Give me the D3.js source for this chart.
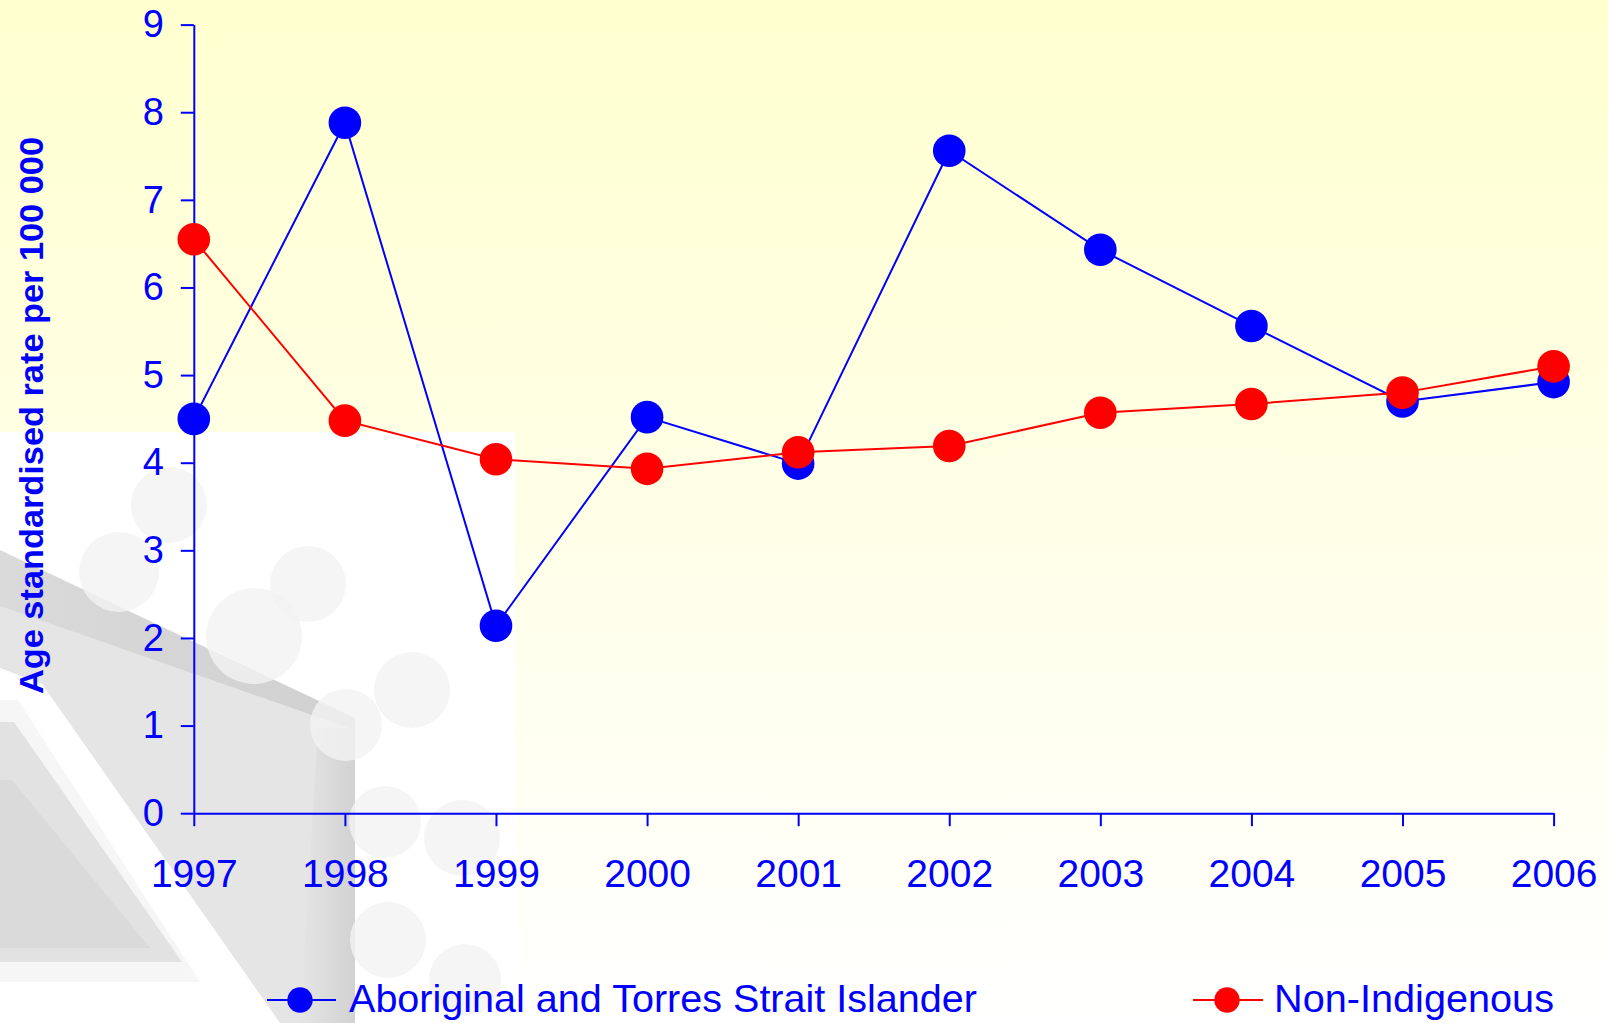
<!DOCTYPE html>
<html>
<head>
<meta charset="utf-8">
<script src="https://cdn.jsdelivr.net/npm/d3@7"></script>
<style>
  html, body { margin: 0; padding: 0; background: #fff; }
  svg { display: block; }
  text { font-family: "Liberation Sans", Arial, sans-serif; }
</style>
</head>
<body>
<svg id="chart" width="1608" height="1023"></svg>
<script>
// ---- data ----
const years = ["1997", "1998", "1999", "2000", "2001", "2002", "2003", "2004", "2005", "2006"];
const indigenous = [4.50, 7.88, 2.14, 4.52, 3.99, 7.56, 6.43, 5.56, 4.70, 4.92];
const nonIndigenous = [6.55, 4.48, 4.04, 3.93, 4.12, 4.19, 4.57, 4.67, 4.80, 5.10];
const yTicks = [0, 1, 2, 3, 4, 5, 6, 7, 8, 9];
const seriesNames = ["Aboriginal and Torres Strait Islander", "Non-Indigenous"];
const yTitle = "Age standardised rate per 100 000";

const W = 1608, H = 1023;
const svg = d3.select("#chart");
const defs = svg.append("defs");

// ---- background ----
const bg = defs.append("linearGradient").attr("id", "bgGrad")
  .attr("x1", 0).attr("y1", 0).attr("x2", 0).attr("y2", 1);
bg.append("stop").attr("offset", "0%").attr("stop-color", "#FFFFCF");
bg.append("stop").attr("offset", "100%").attr("stop-color", "#FFFFFF");
svg.append("rect").attr("width", W).attr("height", H).attr("fill", "url(#bgGrad)");

// watermark panel (lower-left)
defs.append("clipPath").attr("id", "wmClip")
  .append("rect").attr("x", 0).attr("y", 432).attr("width", 515).attr("height", H - 432);
const wm = svg.append("g").attr("clip-path", "url(#wmClip)");
wm.append("rect").attr("x", 0).attr("y", 432).attr("width", 515).attr("height", H - 432).attr("fill", "#ffffff");

const band = defs.append("linearGradient").attr("id", "bandGrad")
  .attr("x1", 0).attr("y1", 0).attr("x2", 1).attr("y2", 0);
band.append("stop").attr("offset", "0%").attr("stop-color", "#dadada");
band.append("stop").attr("offset", "100%").attr("stop-color", "#d0d0d0");

wm.append("path").attr("d", "M0,600 L355,728 L355,1023 L280,1023 L42,684 L0,668 Z").attr("fill", "#e5e5e5");
wm.append("path").attr("d", "M0,550 L355,718 L355,730 L0,606 Z").attr("fill", "url(#bandGrad)");
const vs = defs.append("linearGradient").attr("id", "vsGrad")
  .attr("x1", 0).attr("y1", 0).attr("x2", 1).attr("y2", 0);
vs.append("stop").attr("offset", "0%").attr("stop-color", "#e5e5e5");
vs.append("stop").attr("offset", "100%").attr("stop-color", "#d2d2d2");
wm.append("path").attr("d", "M318,728 L355,728 L355,1023 L300,1023 Z").attr("fill", "url(#vsGrad)");
wm.append("path").attr("d", "M0,700 L18,700 L200,982 L0,982 Z").attr("fill", "#f6f6f6");
wm.append("path").attr("d", "M0,722 L14,722 L182,962 L0,962 Z").attr("fill", "#e2e2e2");
wm.append("path").attr("d", "M0,780 L12,780 L150,948 L0,948 Z").attr("fill", "#dadada");

const circ = [[169,505,38],[119,572,40],[308,584,38],[254,636,48],[412,690,38],[346,725,36],
              [385,822,36],[462,838,38],[388,940,38],[465,980,36]];
wm.selectAll("circle.wc").data(circ).join("circle").attr("class", "wc")
  .attr("cx", d => d[0]).attr("cy", d => d[1]).attr("r", d => d[2]).attr("fill", "#f2f2f2").attr("opacity", 0.8);

// ---- scales ----
const x = d3.scalePoint().domain(years).range([193.8, 1553.6]).padding(0);
const y = d3.scaleLinear().domain([0, 9]).range([813.2, 24.6]);
const blue = "#0000FF", red = "#FF0000";

// ---- axes ----
const yAxis = svg.append("g").attr("transform", `translate(${x(years[0])},0)`)
  .call(d3.axisLeft(y).tickValues(yTicks).tickFormat(d3.format("d")).tickSize(13).tickSizeOuter(0).tickPadding(17));
yAxis.selectAll("text").attr("font-size", 38).attr("fill", blue).style("font-family", '"Liberation Sans", Arial, sans-serif');

const xAxis = svg.append("g").attr("transform", `translate(0,${y(0)})`)
  .call(d3.axisBottom(x).tickSize(13).tickSizeOuter(0));
xAxis.selectAll("text").attr("font-size", 39).attr("fill", blue).attr("y", 74).attr("dy", 0)
  .style("font-family", '"Liberation Sans", Arial, sans-serif');

[yAxis, xAxis].forEach(g => {
  g.select(".domain").attr("stroke", blue).attr("stroke-width", 2);
  g.selectAll(".tick line").attr("stroke", blue).attr("stroke-width", 2);
});

// y title
svg.append("text")
  .attr("transform", `translate(43,${(137 + 694) / 2}) rotate(-90)`)
  .attr("text-anchor", "middle").attr("font-size", 34).attr("font-weight", "bold")
  .attr("fill", blue).attr("textLength", 557).attr("lengthAdjust", "spacingAndGlyphs")
  .text(yTitle);

// ---- series ----
const line = d3.line().x((d, i) => x(years[i])).y(d => y(d));
function drawSeries(vals, color) {
  const g = svg.append("g");
  g.append("path").datum(vals).attr("d", line).attr("fill", "none").attr("stroke", color).attr("stroke-width", 2);
  g.selectAll("circle").data(vals).join("circle")
    .attr("cx", (d, i) => x(years[i])).attr("cy", d => y(d)).attr("r", 16.3).attr("fill", color);
}
drawSeries(indigenous, blue);
drawSeries(nonIndigenous, red);

// ---- legend ----
const legend = [
  { name: seriesNames[0], color: blue, x0: 267, x1: 336, cx: 300, tx: 349, tl: 628 },
  { name: seriesNames[1], color: red, x0: 1193, x1: 1263, cx: 1227, tx: 1274, tl: 280 }
];
const lg = svg.append("g");
legend.forEach(l => {
  lg.append("line").attr("x1", l.x0).attr("x2", l.x1).attr("y1", 1000).attr("y2", 1000)
    .attr("stroke", l.color).attr("stroke-width", 2);
  lg.append("circle").attr("cx", l.cx).attr("cy", 1000).attr("r", 12.7).attr("fill", l.color);
  lg.append("text").attr("x", l.tx).attr("y", 1012).attr("font-size", 39).attr("fill", blue)
    .attr("textLength", l.tl).attr("lengthAdjust", "spacingAndGlyphs").text(l.name);
});
</script>
</body>
</html>
